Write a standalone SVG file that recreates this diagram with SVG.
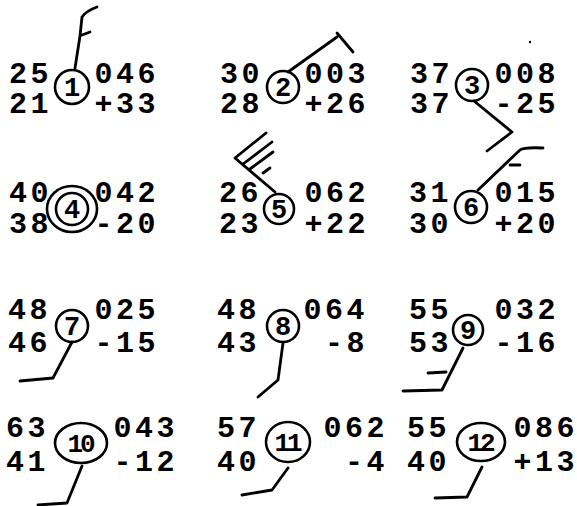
<svg xmlns="http://www.w3.org/2000/svg" width="577" height="506" viewBox="0 0 577 506">
<style>
.t{font-family:"Liberation Mono","Courier New",monospace;font-weight:bold;font-size:30px;letter-spacing:3.5px;fill:#000}
.r{text-anchor:end}
.c{font-family:"Liberation Mono","Courier New",monospace;font-weight:bold;font-size:27px;fill:#000;text-anchor:middle}
.c2{font-family:"Liberation Mono","Courier New",monospace;font-weight:bold;font-size:26px;letter-spacing:-3px;fill:#000;text-anchor:middle}
.o{fill:none;stroke:#000;stroke-width:2.6}
.w{fill:none;stroke:#000;stroke-width:2.8;stroke-linecap:round;stroke-linejoin:round}
</style>
<rect width="577" height="506" fill="#fff"/>
<g id="connectors">
<path class="w" d="M75,68 L80,36 L82,17 Q86,11 97,7 M82,35 L90,32"/>
<path class="w" d="M288,72 L337,37 M337,33 L353,52"/>
<path class="w" d="M474,101 L512,132 L487,151"/>
<path class="w" d="M275,192 L235,158 L266,133 M243,164 L272,142 M250,169 L273,152 M263,173 L270,168"/>
<path class="w" d="M478,190 L520,150 Q524,147 543,148 M510,165 L520,165"/>
<path class="w" d="M72,342 L53,378 L20,381"/>
<path class="w" d="M283,343 L278,380 L258,397"/>
<path class="w" d="M463,348 L442,390 L403,391 M428,373 L446,372"/>
<path class="w" d="M82,466 L67,503 L38,505"/>
<path class="w" d="M288,468 L272,490 L242,495"/>
<path class="w" d="M482,467 L467,497 L435,498"/>
</g>
<g id="station-1">
<text class="t" x="9" y="83">25</text><text class="t r" x="159" y="83">046</text>
<text class="t" x="9" y="113">21</text><text class="t r" x="159" y="113">+33</text>
<circle class="o" cx="72" cy="87" r="17"/><text class="c" x="72" y="96">1</text>
</g>
<g id="station-2">
<text class="t" x="220" y="83">30</text><text class="t r" x="369" y="83">003</text>
<text class="t" x="220" y="113">28</text><text class="t r" x="369" y="113">+26</text>
<circle class="o" cx="283" cy="87" r="16"/><text class="c" x="283" y="96">2</text>
</g>
<g id="station-3">
<text class="t" x="410" y="83">37</text><text class="t r" x="559" y="83">008</text>
<text class="t" x="410" y="113">37</text><text class="t r" x="559" y="113">-25</text>
<circle class="o" cx="472" cy="85" r="16"/><text class="c" x="472" y="94">3</text>
</g>
<g id="station-4">
<text class="t" x="9" y="202">40</text><text class="t r" x="159" y="202">042</text>
<text class="t" x="9" y="233">38</text><text class="t r" x="159" y="233">-20</text>
<ellipse class="o" cx="72" cy="209" rx="25" ry="23"/><circle class="o" cx="72" cy="209" r="16"/><text class="c" x="72" y="218">4</text>
</g>
<g id="station-5">
<text class="t" x="219" y="202">26</text><text class="t r" x="369" y="202">062</text>
<text class="t" x="219" y="233">23</text><text class="t r" x="369" y="233">+22</text>
<circle class="o" cx="279" cy="209" r="15"/><text class="c" x="279" y="218">5</text>
</g>
<g id="station-6">
<text class="t" x="409" y="202">31</text><text class="t r" x="559" y="202">015</text>
<text class="t" x="409" y="233">30</text><text class="t r" x="559" y="233">+20</text>
<circle class="o" cx="471" cy="207" r="16"/><text class="c" x="471" y="216">6</text>
</g>
<g id="station-7">
<text class="t" x="8" y="319">48</text><text class="t r" x="159" y="319">025</text>
<text class="t" x="8" y="352">46</text><text class="t r" x="159" y="352">-15</text>
<circle class="o" cx="72" cy="326" r="16"/><text class="c" x="72" y="335">7</text>
</g>
<g id="station-8">
<text class="t" x="217" y="319">48</text><text class="t r" x="368" y="319">064</text>
<text class="t" x="217" y="352">43</text><text class="t r" x="368" y="352">-8</text>
<circle class="o" cx="283" cy="326" r="16"/><text class="c" x="283" y="335">8</text>
</g>
<g id="station-9">
<text class="t" x="409" y="319">55</text><text class="t r" x="559" y="319">032</text>
<text class="t" x="409" y="352">53</text><text class="t r" x="559" y="352">-16</text>
<circle class="o" cx="468" cy="330" r="15"/><text class="c" x="468" y="339">9</text>
</g>
<g id="station-10">
<text class="t" x="6" y="437">63</text><text class="t r" x="178" y="437">043</text>
<text class="t" x="6" y="471">41</text><text class="t r" x="178" y="471">-12</text>
<ellipse class="o" cx="81" cy="443" rx="26" ry="20"/><text class="c2" x="80" y="452">10</text>
</g>
<g id="station-11">
<text class="t" x="217" y="437">57</text><text class="t r" x="388" y="437">062</text>
<text class="t" x="217" y="471">40</text><text class="t r" x="388" y="471">-4</text>
<ellipse class="o" cx="288" cy="442" rx="22" ry="20"/><text class="c2" x="287" y="451">11</text>
</g>
<g id="station-12">
<text class="t" x="407" y="437">55</text><text class="t r" x="578" y="437">086</text>
<text class="t" x="407" y="471">40</text><text class="t r" x="578" y="471">+13</text>
<ellipse class="o" cx="481" cy="442" rx="24" ry="19"/><text class="c2" x="480" y="451">12</text>
</g>
<circle cx="530" cy="42" r="1.2" fill="#000"/>
</svg>
